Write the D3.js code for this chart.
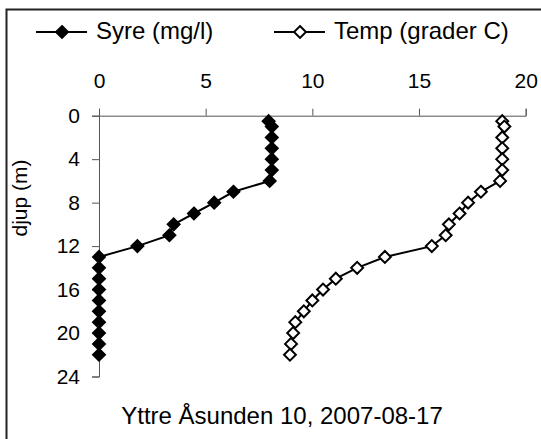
<!DOCTYPE html>
<html>
<head>
<meta charset="utf-8">
<script src="https://cdn.jsdelivr.net/npm/d3@7"></script>
<style>
  body { margin: 0; background: #fff; }
  svg { display: block; font-family: "Liberation Sans", Arial, sans-serif; }
</style>
</head>
<body>
<div id="chart"></div>
<script>
// depth profile data
var depths = [0.5, 1, 2, 3, 4, 5, 6, 7, 8, 9, 10, 11, 12, 13, 14, 15, 16, 17, 18, 19, 20, 21, 22];
var syre = [7.95, 8.1, 8.1, 8.1, 8.1, 8.1, 8.0, 6.3, 5.4, 4.45, 3.5, 3.3, 1.8, 0, 0, 0, 0, 0, 0, 0, 0, 0, 0];
var temp = [18.9, 19.0, 18.9, 18.9, 18.9, 18.9, 18.8, 17.9, 17.3, 16.9, 16.4, 16.25, 15.6, 13.4, 12.1, 11.1, 10.5, 10.0, 9.6, 9.2, 9.1, 9.0, 8.95];
var xTicks = [0, 5, 10, 15, 20];
var yTicks = [0, 4, 8, 12, 16, 20, 24];
var seriesNames = ["Syre (mg/l)", "Temp (grader C)"];
var title = "Yttre Åsunden 10, 2007-08-17";

function chart() {
    var svgWidth = 541, svgHeight = 439;

    var svg = d3.select("#chart")
        .append("svg")
        .attr("width", svgWidth)
        .attr("height", svgHeight);

    // outer frame (only left/top visible in the crop)
    svg.append("rect")
        .attr("x", 6.5).attr("y", 9.5)
        .attr("width", 560).attr("height", 460)
        .attr("fill", "none")
        .attr("stroke", "#222")
        .attr("stroke-width", 2);

    var x = d3.scaleLinear().domain([0, 20]).range([99, 525.7]);
    var y = d3.scaleLinear().domain([0, 24]).range([115.7, 376.5]);

    var xAxis = d3.axisTop(x).tickValues(xTicks).tickSize(7).tickPadding(21);
    var yAxis = d3.axisLeft(y).tickValues(yTicks).tickSize(7).tickPadding(12);

    var gx = svg.append("g")
        .attr("transform", `translate(0, ${y(0)})`)
        .call(xAxis);
    var gy = svg.append("g")
        .attr("transform", `translate(${x(0)}, 0)`)
        .call(yAxis);

    [gx, gy].forEach(g => {
        g.select(".domain").attr("stroke", "#555");
        g.selectAll(".tick line").attr("stroke", "#555");
        g.selectAll(".tick text")
            .attr("fill", "#000")
            .style("font-size", "21px")
            .style("font-family", "Liberation Sans, Arial, sans-serif");
    });

    // y axis title
    svg.append("text")
        .attr("transform", "translate(27, 198) rotate(-90)")
        .attr("text-anchor", "middle")
        .style("font-size", "21px")
        .text("djup (m)");

    var diamond = d3.symbol().type(d3.symbolDiamond2).size(90);

    var line = d3.line()
        .x(d => x(d[0]))
        .y(d => y(d[1]));

    var sets = [
        { name: seriesNames[0], vals: syre, fill: "#000" },
        { name: seriesNames[1], vals: temp, fill: "#fff" }
    ];

    sets.forEach(s => {
        var pts = depths.map((d, i) => [s.vals[i], d]);
        svg.append("path")
            .datum(pts)
            .attr("fill", "none")
            .attr("stroke", "#000")
            .attr("stroke-width", 2)
            .attr("d", line);

        svg.append("g")
            .selectAll("path")
            .data(pts)
            .enter()
            .append("path")
            .attr("d", diamond)
            .attr("transform", d => `translate(${x(d[0])}, ${y(d[1])})`)
            .attr("fill", s.fill)
            .attr("stroke", "#000")
            .attr("stroke-width", 2);
    });

    // legend
    var legendX = [36, 274];
    sets.forEach((s, i) => {
        var lg = svg.append("g").attr("transform", `translate(${legendX[i]}, 32)`);
        lg.append("line")
            .attr("x1", 0).attr("x2", 51)
            .attr("stroke", "#000").attr("stroke-width", 2);
        lg.append("path")
            .attr("d", diamond)
            .attr("transform", "translate(26, 0)")
            .attr("fill", s.fill)
            .attr("stroke", "#000")
            .attr("stroke-width", 2);
        lg.append("text")
            .attr("x", 60)
            .attr("y", 7)
            .style("font-size", "24px")
            .text(s.name);
    });

    // title below chart
    svg.append("text")
        .attr("x", 282)
        .attr("y", 424)
        .attr("text-anchor", "middle")
        .style("font-size", "24px")
        .text(title);
}

chart();
</script>
</body>
</html>
